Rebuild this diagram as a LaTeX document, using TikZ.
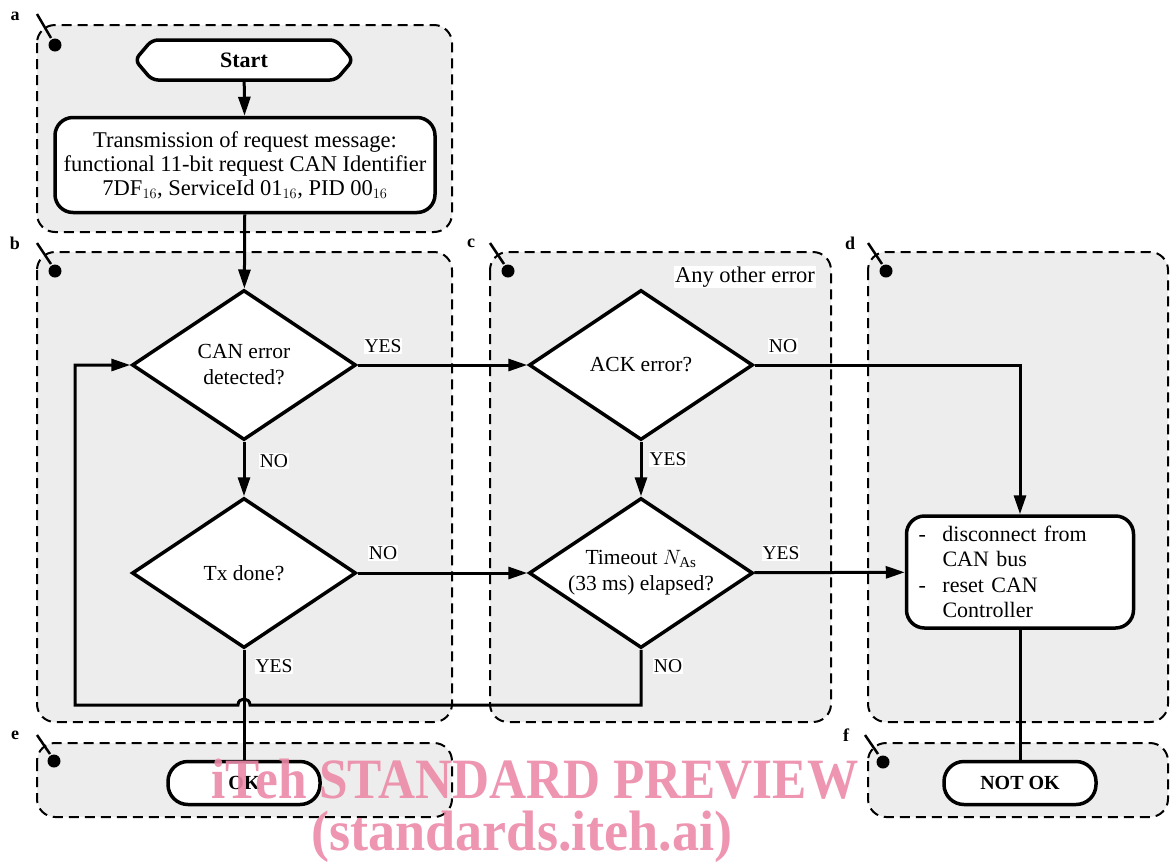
\documentclass[tikz,border=0pt]{standalone}
\usepackage{fontspec}
\setmainfont{Liberation Serif}
\usetikzlibrary{arrows.meta,shapes.geometric,shapes.misc}
\definecolor{grpfill}{RGB}{237,237,237}
\definecolor{wmark}{RGB}{236,138,168}
\tikzset{
  grp/.style={draw, dash pattern=on 10pt off 6pt, line width=2pt, fill=grpfill, rounded corners=18pt},
  tick/.style={line width=2.5pt},
  grplabel/.style={font=\fontsize{18}{20}\selectfont\bfseries, inner sep=0pt},
  box/.style={draw, line width=3.5pt, fill=white, rounded corners=18pt, align=center, font=\fontsize{22.5}{24}\selectfont},
  dec/.style={draw, diamond, shape aspect=1.5, line width=3.5pt, fill=white, inner sep=-12pt, minimum width=224pt, minimum height=150pt, align=center, font=\fontsize{21.5}{26}\selectfont},
  term/.style={draw, line width=3.5pt, fill=white, rounded corners=20pt, font=\fontsize{20}{24}\selectfont\bfseries, minimum width=152pt, minimum height=43pt},
  flow/.style={line width=3pt, -{Triangle[length=19pt,width=12pt]}},
  plain/.style={line width=3pt},
  lbl/.style={fill=white, inner sep=1pt, font=\fontsize{19.5}{20}\selectfont},
  wm/.style={text=wmark, opacity=0.9, font=\fontsize{57}{60}\selectfont\bfseries, inner sep=0pt, anchor=base},
}
\begin{document}
\begin{tikzpicture}[x=1pt,y=-1pt]
\useasboundingbox (0,0) rectangle (1170,863);
% groups
\draw[grp] (37,25) rectangle (452,232);
\draw[grp] (37,252) rectangle (452,722);
\draw[grp] (490,252) rectangle (831,722);
\draw[grp] (868,252) rectangle (1168,722);
\draw[grp] (37,743) rectangle (452,817);
\draw[grp] (868,743) rectangle (1168,817);
% group labels and ticks
\node[grplabel] (la) at (15,16) {a};
\draw[tick] (37,14) -- (51,38); \fill (55,45) circle (6.5);
\node[grplabel] (lb) at (15,243) {b};
\draw[tick] (37,243) -- (51,264); \fill (55,271) circle (6.5);
\node[grplabel] (lc) at (471,243) {c};
\draw[tick] (490,243) -- (504,264); \fill (508,271) circle (6.5);
\node[grplabel] (ld) at (850,243) {d};
\draw[tick] (868,243) -- (882,264); \fill (886,271) circle (6.5);
\node[grplabel] (le) at (15,735) {e};
\draw[tick] (37,735) -- (50,754); \fill (54,761) circle (6.5);
\node[grplabel] (lf) at (846,735) {f};
\draw[tick] (865,735) -- (878,754); \fill (883,762) circle (6.5);
\node[lbl, font=\fontsize{22.5}{24}\selectfont] (other) at (745,277) {Any other error};
% start terminal
\node[minimum width=217pt, minimum height=40pt, inner sep=0pt, font=\fontsize{22}{24}\selectfont\bfseries] (start) at (244,60) {};
\draw[line width=3.5pt, fill=white, rounded corners=6pt] (135,60) -- (152,40) -- (336,40) -- (353,60) -- (336,80) -- (152,80) -- cycle;
\node[font=\fontsize{22}{24}\selectfont\bfseries] (starttxt) at (start) {Start};
% nodes
\node[box, minimum width=380pt, minimum height=95pt, inner sep=0pt] (tx) at (245,165)
  {Transmission of request message:\\functional 11-bit request CAN Identifier\\7DF$_{16}$, ServiceId 01$_{16}$, PID 00$_{16}$};
\node[dec] (can) at (244,365) {CAN error\\detected?};
\node[dec] (done) at (244,573) {Tx done?};
\node[dec] (ack) at (641,365) {ACK error?};
\node[dec] (tmo) at (641,573) {Timeout $N_{\mathrm{As}}$\\(33 ms) elapsed?};
\node[box, align=left, text width=203pt, inner xsep=12pt, inner ysep=0pt, minimum height=112pt, font=\fontsize{22}{25.5}\selectfont] (act) at (1020,572)
  {\makebox[24pt][l]{-}disconnect from\\\hspace*{24pt}CAN bus\\\makebox[24pt][l]{-}reset CAN\\\hspace*{24pt}Controller};
\node[term] (ok) at (244,783) {OK};
\node[term] (nok) at (1020,783) {NOT OK};
% connectors
\draw[flow] (start) -- (tx);
\draw[flow] (tx) -- (can);
\draw[flow] (can) -- (done);
\draw[flow] (can) -- (ack);
\draw[flow] (done) -- (tmo);
\draw[flow] (ack) -- (tmo);
\draw[flow] (tmo) -- (act);
\draw[flow] (ack.east) -| (act.north);
\draw[plain] (done.south) -- (ok.north);
\draw[plain] (act.south) -- (nok.north);
\coordinate (c1) at (641,705);
\coordinate (h1) at (250,705);
\coordinate (h2) at (238,705);
\coordinate (c2) at (75,705);
\draw[flow] (tmo.south) -- (c1) -- (h1) .. controls (250,697) and (238,697) .. (h2) -- (c2) |- (can.west);
% edge labels
\node[lbl] (y1) at (383,346) {YES};
\node[lbl] (n1) at (274,461) {NO};
\node[lbl] (n2) at (383,553) {NO};
\node[lbl] (y2) at (274,666) {YES};
\node[lbl] (n3) at (783,346) {NO};
\node[lbl] (y3) at (668,459) {YES};
\node[lbl] (y4) at (781,553) {YES};
\node[lbl] (n4) at (668,666) {NO};
% watermark
\node[wm] (wm1) at (535,798) {\scalebox{0.9}[1]{iTeh STANDARD PREVIEW}};
\node[wm] (wm2) at (522,850) {\scalebox{0.95}[1]{(standards.iteh.ai)}};
\end{tikzpicture}
\end{document}
